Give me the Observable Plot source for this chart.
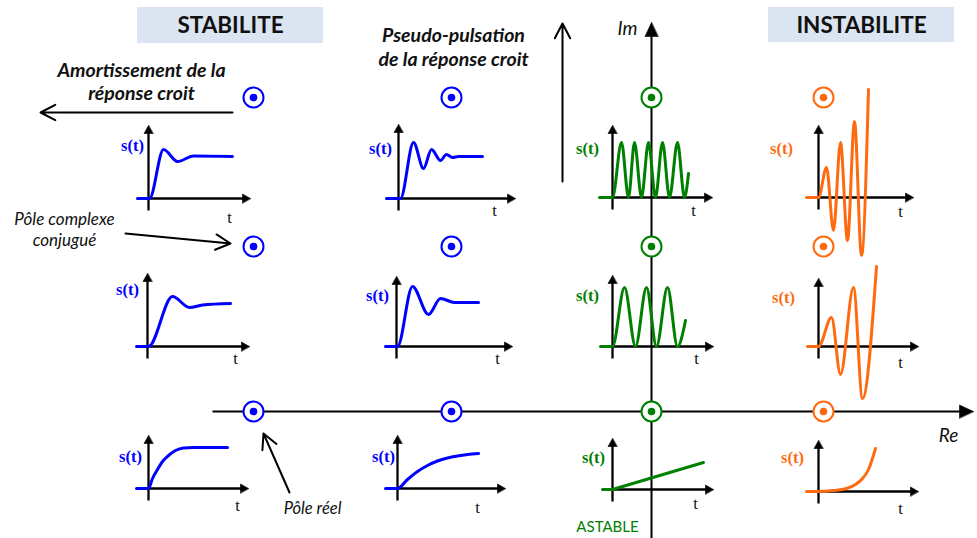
<!DOCTYPE html>
<html lang="fr">
<head>
<meta charset="utf-8">
<script src="https://cdn.jsdelivr.net/npm/d3@7"></script>
<script src="https://cdn.jsdelivr.net/npm/@observablehq/plot@0.6"></script>
<style>
html,body{margin:0;padding:0;background:#fff;}
</style>
</head>
<body>
<div id="chart"></div>
<script>
// ================= DATA =================
// Pole columns along Re (diagram units) and rows along Im (diagram units, top = larger Im)
const poleRe = [253, 451, 651, 823];
const poleIm = [97, 246, 411];
const poleKind = ["stable", "stable", "astable", "instable"];

// Texts
const titles = ["STABILITE", "INSTABILITE"];
const notes = ["Amortissement de la\nréponse croit", "Pseudo-pulsation\nde la réponse croit", "Pôle complexe\nconjugué", "Pôle réel"];
const axisNames = ["Re", "Im"];
const panelYLabel = "s(t)";
const panelXLabel = "t";
const astableLabel = "ASTABLE";

// Step responses s(t): [t, s] samples (panel units, s upwards)
// Row 1 (large imaginary part)
const s_r1_c1 = [[-11,0],[1,0],[15,49],[29,37],[45,42.5],[84,42]];
const s_r1_c2 = [[-12,0],[2,0],[15,56],[25,30],[33,49],[42,38],[48,44],[54,41],[60,42],[84,42]];
const s_r1_c3 = [[-13,0],[0,0],[9,55],[16,0],[22,55],[29,0],[36,55],[43,0],[50,55],[57,0],[65,55],[72,0],[76,24]];
const s_r1_c4 = [[-12,0],[0,0],[8,30],[15,-33],[22,55],[29,-43],[36,76],[43,-58],[50,108]];
// Row 2 (smaller imaginary part)
const s_r2_c1 = [[-11,0],[1,0],[25,50],[42,39],[55,41.5],[83,43]];
const s_r2_c2 = [[-11,0],[1,0],[16,60],[32,32],[44,48],[58,44],[82,44]];
const s_r2_c3 = [[-12,0],[0,0],[12,59],[23,0],[34,59],[44,0],[55,59],[65,0],[73,26]];
const s_r2_c4 = [[-11,0],[0,0],[13,29],[22,-28],[35,59],[44,-52],[58,80]];
// Row 3 (real poles)
const s_r3_c1 = [[-12,0],[0,0],[4,10],[9,19],[14,27],[20,33],[27,38],[35,40.5],[45,41],[79,41]];
const s_r3_c2 = [[-12,0],[0,0],[10,9],[20,17],[30,23],[40,27.5],[50,30.5],[60,32.5],[70,34],[81,35]];
const s_r3_c3 = [[-10,0],[0,0],[91,27]];
const s_r3_c4 = [[-12,0],[0,0],[15,1],[28,3],[37,7],[44,13],[50,22],[57,43]];

const responses = [s_r1_c1, s_r1_c2, s_r1_c3, s_r1_c4,
                   s_r2_c1, s_r2_c2, s_r2_c3, s_r2_c4,
                   s_r3_c1, s_r3_c2, s_r3_c3, s_r3_c4];

// ================= STYLE / LAYOUT =================
const kindColor = {stable: "#0000ff", astable: "#008000", instable: "#ff6a10"};
const SANS = "Lato, 'Open Sans', sans-serif";
const SERIF = "'Liberation Serif', 'DejaVu Serif', serif";

// panel frames: origin, axis lengths, label anchors
const panels = [
  {ox:148, oy:198, w:102, h:73, sx:132, sy:145, tx:229, ty:217},
  {ox:398, oy:198, w:117, h:74, sx:380, sy:148, tx:494, ty:210},
  {ox:612, oy:197, w:100, h:72, sx:587, sy:148, tx:693, ty:210},
  {ox:818, oy:197, w:95,  h:72, sx:781, sy:148, tx:900, ty:211},
  {ox:147, oy:346, w:102, h:73, sx:127, sy:289, tx:235, ty:358},
  {ox:396, oy:346, w:116, h:70, sx:377, sy:295, tx:497, ty:358},
  {ox:612, oy:346, w:101, h:71, sx:587, sy:295, tx:696, ty:358},
  {ox:818, oy:346, w:100, h:68, sx:783, sy:297, tx:900, ty:362},
  {ox:148, oy:488, w:100, h:53, sx:130, sy:456, tx:237, ty:505},
  {ox:397, oy:488, w:108, h:53, sx:383, sy:456, tx:477, ty:507},
  {ox:612, oy:489, w:101, h:51, sx:593, sy:457, tx:695, ty:503},
  {ox:818, oy:491, w:100, h:51, sx:792, sy:457, tx:900, ty:508}
];
panels.forEach((p, i) => { p.color = kindColor[poleKind[i % 4]]; });

// ================= BUILD TABLES =================
const curveRows = [];
const linearRows = [];
responses.forEach((pts, i) => {
  const p = panels[i];
  const target = (i === 10) ? linearRows : curveRows;
  pts.forEach(([t, s]) => target.push({id: i, x: p.ox + t, y: p.oy - s, color: p.color}));
});

const poles = [];
poleIm.forEach((im, r) => poleRe.forEach((re, c) => poles.push({x: re, y: im, color: kindColor[poleKind[c]]})));

// arrow heads (filled triangles)
const tri = [];
function headUp(id, x, ytip, h, b) { tri.push({id, x, y: ytip}, {id, x: x - b, y: ytip + h}, {id, x: x + b, y: ytip + h}); }
function headRight(id, xtip, y, h, b) { tri.push({id, x: xtip, y}, {id, x: xtip - h, y: y - b}, {id, x: xtip - h, y: y + b}); }

const miniH = [], miniV = [];
const MH = 8, MB = 4.5;
panels.forEach((p, i) => {
  miniH.push({x1: p.ox - 1, x2: p.ox + p.w - MH + 1, y: p.oy});
  miniV.push({x: p.ox, y1: p.oy + 12, y2: p.oy - p.h + MH - 1});
  headRight("h" + i, p.ox + p.w, p.oy, MH, MB);
  headUp("v" + i, p.ox, p.oy - p.h, MH, MB);
});

// main complex-plane axes
const reAxis = {x1: 212, x2: 973, y: poleIm[2]};
const imAxis = {x: poleRe[2], y1: 538, y2: 22};
const BH = 14, BB = 6.5;
headRight("re", reAxis.x2, reAxis.y, BH, BB);
headUp("im", imAxis.x, imAxis.y2, BH, BB);

const explArrows = [
  {x1: 232, y1: 112, x2: 40, y2: 112},
  {x1: 562, y1: 181, x2: 562, y2: 23},
  {x1: 125, y1: 233, x2: 230, y2: 243},
  {x1: 289, y1: 492, x2: 263, y2: 433}
];

const titleBoxes = [
  {x1: 137, x2: 323, y1: 7, y2: 43, text: titles[0], cx: 230, cy: 25.5},
  {x1: 768, x2: 954, y1: 7, y2: 42, text: titles[1], cx: 861, cy: 25}
];

const noteA = [{x: 141, y: 81, text: notes[0]}];
const noteB = [{x: 453, y: 45.5, text: notes[1]}];
const noteC = [{x: 64, y: 228, text: notes[2]}];
const noteD = [{x: 312, y: 508, text: notes[3]}];

const chart = Plot.plot({
  width: 977,
  height: 538,
  margin: 0,
  x: {domain: [0, 977], range: [0, 977], axis: null},
  y: {domain: [0, 538], range: [0, 538], axis: null},
  color: {type: "identity"},
  style: {background: "#fff"},
  marks: [
    // title boxes
    Plot.rect(titleBoxes, {x1: "x1", x2: "x2", y1: "y1", y2: "y2", fill: "#dbe5f1"}),
    Plot.text(titleBoxes, {x: "cx", y: "cy", text: "text", fontFamily: SANS, fontWeight: "bold", fontSize: 22.5, fill: "#111"}),
    // explanatory notes
    Plot.text(noteA, {x: "x", y: "y", text: "text", fontFamily: SANS, fontWeight: "bold", fontStyle: "italic", fontSize: 19.5, lineHeight: 1.18, fill: "#111"}),
    Plot.text(noteB, {x: "x", y: "y", text: "text", fontFamily: SANS, fontWeight: "bold", fontStyle: "italic", fontSize: 19.5, lineHeight: 1.28, fill: "#111"}),
    Plot.text(noteC, {x: "x", y: "y", text: "text", fontFamily: SANS, fontStyle: "italic", fontSize: 17, lineHeight: 1.24, fill: "#111"}),
    Plot.text(noteD, {x: "x", y: "y", text: "text", fontFamily: SANS, fontStyle: "italic", fontSize: 16.5, fill: "#111"}),
    // main axes
    Plot.link([reAxis], {x1: "x1", x2: d => d.x2 - BH + 1, y1: "y", y2: "y", stroke: "black", strokeWidth: 2}),
    Plot.link([imAxis], {x1: "x", x2: "x", y1: "y1", y2: d => d.y2 + BH - 1, stroke: "black", strokeWidth: 2}),
    Plot.text([{x: 627, y: 28, t: axisNames[1]}, {x: 948, y: 435, t: axisNames[0]}], {x: "x", y: "y", text: "t", fontFamily: SANS, fontStyle: "italic", fontSize: 19, fill: "#111"}),
    // explanatory arrows
    Plot.arrow(explArrows, {x1: "x1", y1: "y1", x2: "x2", y2: "y2", stroke: "black", strokeWidth: 2, headLength: 12.5, headAngle: 55}),
    // mini axes
    Plot.link(miniH, {x1: "x1", x2: "x2", y1: "y", y2: "y", stroke: "black", strokeWidth: 2.3}),
    Plot.link(miniV, {x1: "x", x2: "x", y1: "y1", y2: "y2", stroke: "black", strokeWidth: 2.3}),
    Plot.line(tri, {x: "x", y: "y", z: "id", fill: "black", stroke: "black", strokeWidth: 0.6, curve: "linear-closed"}),
    // panel labels
    Plot.text(panels, {x: "sx", y: "sy", text: () => panelYLabel, fill: "color", fontFamily: SERIF, fontWeight: "bold", fontSize: 16.5}),
    Plot.text(panels, {x: "tx", y: "ty", text: () => panelXLabel, fill: "#111", fontFamily: SERIF, fontSize: 16.5}),
    Plot.text([{x: 607, y: 527}], {x: "x", y: "y", text: () => astableLabel, fill: "#008000", fontFamily: SANS, fontSize: 15}),
    // step responses
    Plot.line(curveRows, {x: "x", y: "y", z: "id", stroke: "color", strokeWidth: 3, curve: "monotone-x"}),
    Plot.line(linearRows, {x: "x", y: "y", z: "id", stroke: "color", strokeWidth: 3, curve: "linear"}),
    // poles
    Plot.dot(poles, {x: "x", y: "y", r: 10, stroke: "color", strokeWidth: 2, fill: "white"}),
    Plot.dot(poles, {x: "x", y: "y", r: 3.8, fill: "color", stroke: "none"})
  ]
});
document.getElementById("chart").appendChild(chart);
</script>
</body>
</html>
